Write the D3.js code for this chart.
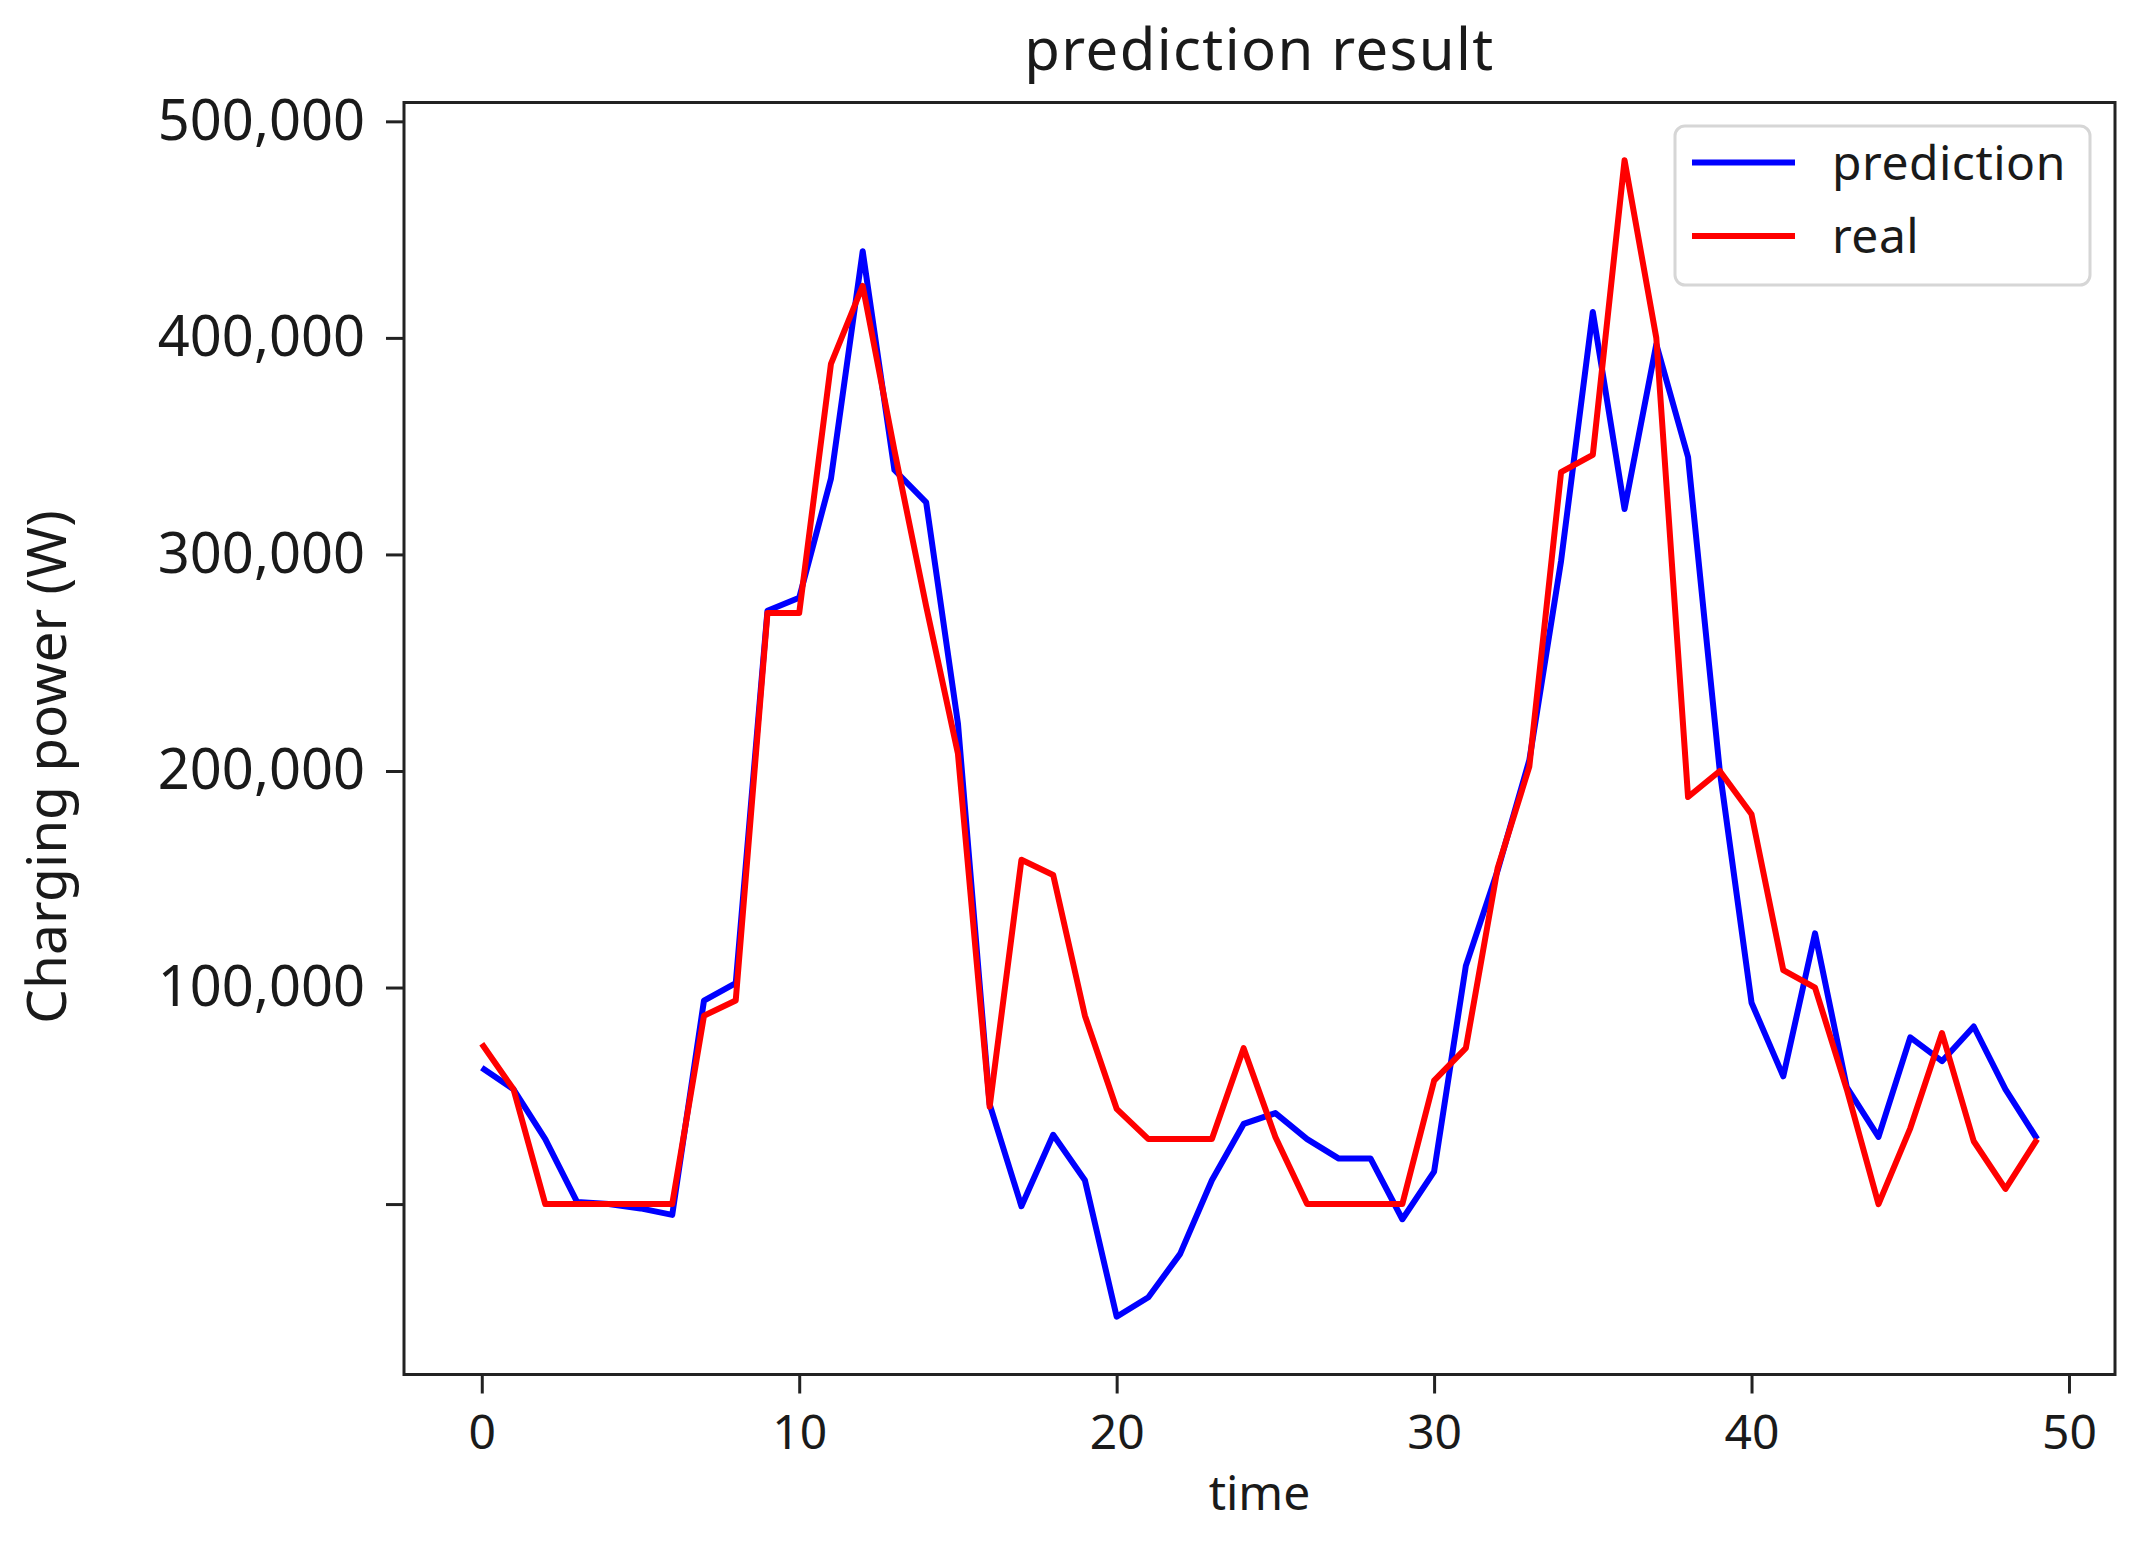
<!DOCTYPE html>
<html>
<head>
<meta charset="utf-8">
<script src="https://cdn.jsdelivr.net/npm/d3@7/dist/d3.min.js"></script>
<style>
  body { margin: 0; background: #fff; }
  text { font-family: "Noto Sans", "Open Sans", sans-serif; fill: #1a1a1a; }
</style>
</head>
<body>
<svg id="chart"></svg>
<script>
// chart values
var timeSteps = [0, 1, 2, 3, 4, 5, 6, 7, 8, 9, 10, 11, 12, 13, 14, 15, 16, 17, 18, 19,
                 20, 21, 22, 23, 24, 25, 26, 27, 28, 29, 30, 31, 32, 33, 34, 35, 36, 37, 38, 39,
                 40, 41, 42, 43, 44, 45, 46, 47, 48, 49];
var prediction = [63000, 53000, 30000, 1000, 0, -2000, -5000, 94000, 102000, 274000,
                  280000, 335000, 440000, 339000, 324000, 222000, 46000, -1000, 32000, 11000,
                  -52000, -43000, -23000, 11000, 37000, 42000, 30000, 21000, 21000, -7000,
                  15000, 110000, 154000, 205000, 297000, 412000, 321000, 397000, 345000, 200000,
                  93000, 59000, 125000, 54000, 31000, 77000, 66000, 82000, 53000, 30000];
var real = [74000, 53000, 0, 0, 0, 0, 0, 87000, 94000, 273000,
            273000, 388000, 424000, 348000, 276000, 208000, 45000, 159000, 152000, 87000,
            44000, 30000, 30000, 30000, 72000, 31000, 0, 0, 0, 0,
            57000, 72000, 155000, 202000, 338000, 346000, 482000, 400000, 188000, 200000,
            180000, 108000, 100000, 53000, 0, 35000, 79000, 29000, 7000, 30000];
var yTicks = [0, 100000, 200000, 300000, 400000, 500000];
var xTicks = [0, 10, 20, 30, 40, 50];
var seriesNames = ["prediction", "real"];
var seriesColors = ["#0000ff", "#ff0000"];

var chart = {};
chart.width = 2146;
chart.height = 1546;
chart.left = 404;
chart.right = 2115;
chart.top = 102.5;
chart.bottom = 1374.5;

var svg = d3.select("#chart")
    .attr("width", chart.width)
    .attr("height", chart.height);

svg.append("rect")
    .attr("width", chart.width)
    .attr("height", chart.height)
    .attr("fill", "#fff");

// matplotlib style 5% padding on both axes
var xExt = d3.extent(timeSteps);
var xPad = (xExt[1] - xExt[0]) * 0.05;
var x = d3.scaleLinear()
    .domain([xExt[0] - xPad, xExt[1] + xPad])
    .range([chart.left, chart.right]);

var yExt = d3.extent(prediction.concat(real));
var yPad = (yExt[1] - yExt[0]) * 0.05;
var y = d3.scaleLinear()
    .domain([yExt[0] - yPad, yExt[1] + yPad])
    .range([chart.bottom, chart.top]);

// axes
var yAxis = d3.axisLeft(y)
    .tickValues(yTicks)
    .tickFormat(function(d) { return d === 0 ? "" : d3.format(",")(d); })
    .tickSize(18)
    .tickSizeOuter(0)
    .tickPadding(21);

var xAxis = d3.axisBottom(x)
    .tickValues(xTicks)
    .tickFormat(d3.format("d"))
    .tickSize(19)
    .tickSizeOuter(0)
    .tickPadding(21);

var gy = svg.append("g")
    .attr("transform", "translate(" + chart.left + ",0)")
    .call(yAxis);
gy.select(".domain").remove();
gy.selectAll(".tick line").attr("stroke", "#222").attr("stroke-width", 3);
gy.selectAll(".tick text")
    .attr("font-size", 56)
    .attr("font-family", "Noto Sans")
    .attr("fill", "#1a1a1a");

var gx = svg.append("g")
    .attr("transform", "translate(0," + chart.bottom + ")")
    .call(xAxis);
gx.select(".domain").remove();
gx.selectAll(".tick line").attr("stroke", "#222").attr("stroke-width", 3);
gx.selectAll(".tick text")
    .attr("font-size", 48)
    .attr("font-family", "Noto Sans")
    .attr("fill", "#1a1a1a");

// lines
var line = d3.line()
    .x(function(d, i) { return x(timeSteps[i]); })
    .y(function(d) { return y(d); });

[prediction, real].forEach(function(series, k) {
    svg.append("path")
        .datum(series)
        .attr("fill", "none")
        .attr("stroke", seriesColors[k])
        .attr("stroke-width", 6)
        .attr("stroke-linejoin", "round")
        .attr("d", line);
});

// frame
svg.append("rect")
    .attr("x", chart.left)
    .attr("y", chart.top)
    .attr("width", chart.right - chart.left)
    .attr("height", chart.bottom - chart.top)
    .attr("fill", "none")
    .attr("stroke", "#222")
    .attr("stroke-width", 3);

// title and labels
svg.append("text")
    .attr("x", (chart.left + chart.right) / 2)
    .attr("y", 70)
    .attr("text-anchor", "middle")
    .attr("font-size", 58)
    .attr("letter-spacing", 1.4)
    .text("prediction result");

svg.append("text")
    .attr("x", (chart.left + chart.right) / 2)
    .attr("y", 1510)
    .attr("text-anchor", "middle")
    .attr("font-size", 48)
    .text("time");

svg.append("text")
    .attr("transform", "translate(66,767) rotate(-90)")
    .attr("text-anchor", "middle")
    .attr("font-size", 55)
    .attr("fill", "#333")
    .text("Charging power (W)");

// legend
var legend = svg.append("g");
legend.append("rect")
    .attr("x", 1675)
    .attr("y", 126)
    .attr("width", 415)
    .attr("height", 159)
    .attr("rx", 10)
    .attr("fill", "#fff")
    .attr("fill-opacity", 0.8)
    .attr("stroke", "#d6d6d6")
    .attr("stroke-width", 3);

seriesNames.forEach(function(name, k) {
    var ly = 162.5 + k * 73.5;
    legend.append("line")
        .attr("x1", 1692)
        .attr("x2", 1795)
        .attr("y1", ly)
        .attr("y2", ly)
        .attr("stroke", seriesColors[k])
        .attr("stroke-width", 6);
    legend.append("text")
        .attr("x", 1832)
        .attr("y", ly + 17)
        .attr("font-size", 48)
        .attr("letter-spacing", 0.5)
        .text(name);
});
</script>
</body>
</html>
